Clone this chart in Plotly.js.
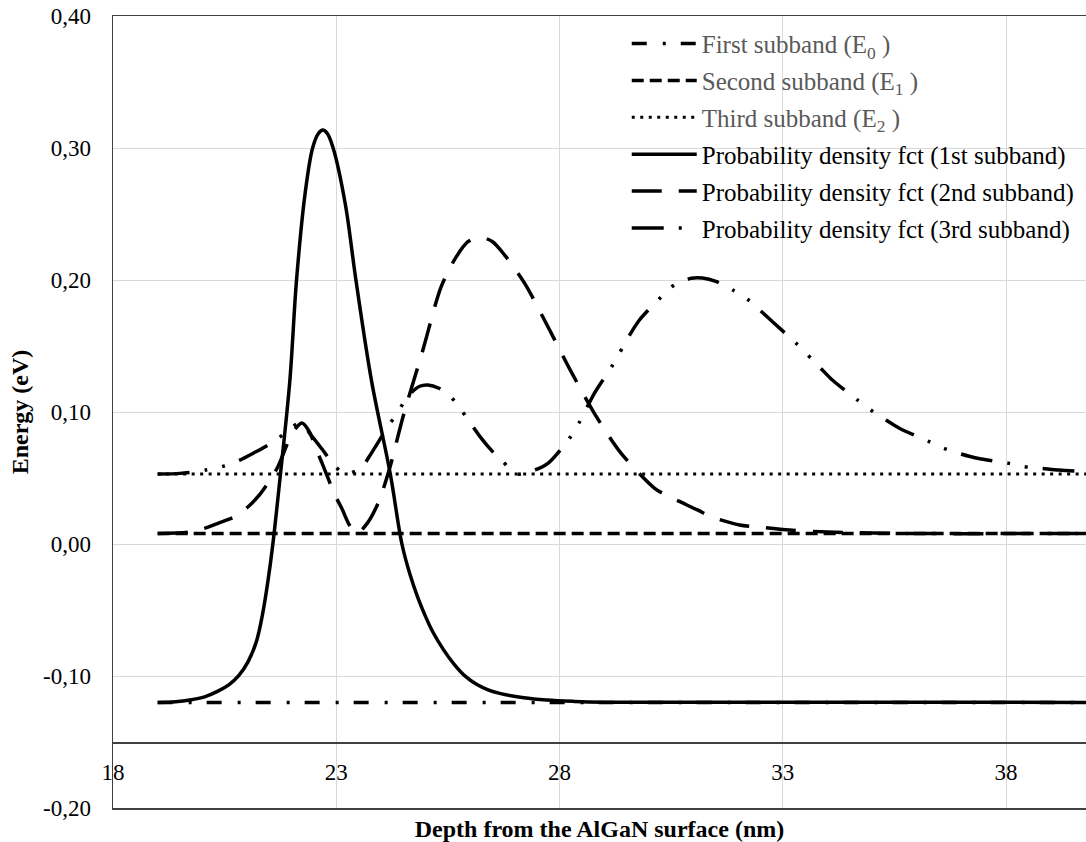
<!DOCTYPE html>
<html>
<head>
<meta charset="utf-8">
<script src="https://cdn.plot.ly/plotly-3.0.1.min.js"></script>
<style>
html, body { margin: 0; padding: 0; background: #ffffff; }
#chart { width: 1086px; height: 842px; }
</style>
</head>
<body>
<div id="chart"></div>
<script>
// ---- Data ----
const levelDepth = [19, 40];
const e0Level = [-0.12, -0.12];
const e1Level = [0.008, 0.008];
const e2Level = [0.053, 0.053];

const pdf1Depth = [19.0, 19.4, 19.72, 20.05, 20.35, 20.6, 20.82, 21.02, 21.21, 21.35, 21.47, 21.58, 21.75, 21.96, 22.11, 22.3, 22.47, 22.6, 22.70, 22.8, 22.93, 23.2, 23.44, 23.79, 24.21, 24.47, 24.65, 24.82, 25.0, 25.16, 25.4, 25.65, 25.9, 26.15, 26.4, 26.66, 27.2, 27.71, 28.3, 29.0, 40];
const pdf1Values = [-0.120, -0.1195, -0.1182, -0.1158, -0.1115, -0.1065, -0.0995, -0.0895, -0.0740, -0.053, -0.028, 0.000, 0.053, 0.1236, 0.200, 0.265, 0.300, 0.311, 0.3136, 0.311, 0.300, 0.258, 0.200, 0.1236, 0.053, 0.000, -0.023, -0.040, -0.055, -0.0665, -0.080, -0.0915, -0.1005, -0.1065, -0.1105, -0.1132, -0.1165, -0.1182, -0.1192, -0.1198, -0.120];

const pdf2Depth = [19.0, 19.7, 20.06, 20.35, 20.73, 21.02, 21.25, 21.47, 21.69, 21.96, 22.1, 22.23, 22.4, 22.55, 22.70, 22.97, 23.12, 23.3, 23.46, 23.7, 23.95, 24.2, 24.5, 24.94, 25.35, 25.69, 25.95, 26.21, 26.5, 26.77, 27.22, 27.74, 28.22, 28.78, 29.38, 30.13, 30.46, 31.09, 31.39, 32.03, 32.4, 33.15, 34.0, 35.6, 40];
const pdf2Values = [0.008, 0.009, 0.012, 0.0157, 0.0207, 0.028, 0.036, 0.0462, 0.0583, 0.0803, 0.088, 0.0917, 0.085, 0.072, 0.0598, 0.0371, 0.0273, 0.014, 0.008, 0.016, 0.032, 0.058, 0.097, 0.147, 0.195, 0.2177, 0.229, 0.2326, 0.229, 0.2189, 0.1975, 0.1646, 0.1331, 0.099, 0.0687, 0.0422, 0.0358, 0.0258, 0.0207, 0.0144, 0.0131, 0.0106, 0.0091, 0.008, 0.008];

const pdf3Depth = [19.0, 19.5, 20.08, 20.48, 20.84, 21.15, 21.47, 21.80, 22.0, 22.18, 22.47, 22.7, 22.90, 23.19, 23.55, 23.79, 24.15, 24.38, 24.6, 24.87, 25.05, 25.3, 25.54, 25.80, 26.02, 26.25, 26.5, 26.73, 27.05, 27.4, 27.74, 28.22, 28.43, 28.78, 29.19, 29.57, 29.79, 30.28, 30.57, 30.95, 31.2, 31.5, 31.88, 32.21, 32.5, 32.77, 33.3, 33.85, 34.11, 34.67, 34.97, 35.31, 35.61, 36.28, 36.61, 36.99, 37.36, 38.07, 38.4, 38.81, 39.19, 40];
const pdf3Values = [0.053, 0.0535, 0.056, 0.059, 0.0636, 0.069, 0.075, 0.0826, 0.088, 0.0917, 0.081, 0.071, 0.062, 0.053, 0.0576, 0.069, 0.0886, 0.0998, 0.112, 0.1195, 0.1205, 0.118, 0.1124, 0.1015, 0.0909, 0.080, 0.070, 0.0623, 0.053, 0.0555, 0.0611, 0.080, 0.0914, 0.1142, 0.1356, 0.1583, 0.1697, 0.1873, 0.1962, 0.2013, 0.2015, 0.199, 0.1924, 0.1854, 0.1767, 0.1684, 0.152, 0.1331, 0.1242, 0.1091, 0.1015, 0.0939, 0.0877, 0.0775, 0.0725, 0.0682, 0.0649, 0.0611, 0.0586, 0.0573, 0.056, 0.0545];

const seriesNames = [
  '<span style="color:#595959">First subband (E<sub>0</sub> )</span>',
  '<span style="color:#595959">Second subband (E<sub>1</sub> )</span>',
  '<span style="color:#595959">Third subband (E<sub>2</sub> )</span>',
  'Probability density fct (1st subband)',
  'Probability density fct (2nd subband)',
  'Probability density fct (3rd subband)'
];

const xTickVals = [18, 23, 28, 33, 38];
const xTickText = ['18', '23', '28', '33', '38'];
const yTickVals = [-0.2, -0.1, 0, 0.1, 0.2, 0.3, 0.4];
const yTickText = ['-0,20', '-0,10', '0,00', '0,10', '0,20', '0,30', '0,40'];

const xTitle = '<b>Depth from the AlGaN surface (nm)</b>';
const yTitle = '<b>Energy (eV)</b>';

// ---- Chart ----
const xRange = [18, 39.79];
const yRange = [-0.2, 0.4];
const ink = '#000000';

const traces = [
  { x: levelDepth, y: e0Level, name: seriesNames[0], legendgroup: 'g0', mode: 'lines', xaxis: 'x2',
    line: { color: ink, width: 3.5, dash: '15px,16px,3px,15px' } },
  { x: levelDepth, y: e1Level, name: seriesNames[1], legendgroup: 'g1', mode: 'lines',
    line: { color: ink, width: 3.5, dash: '12px,6px' } },
  { x: levelDepth, y: e2Level, name: seriesNames[2], legendgroup: 'g2', mode: 'lines',
    line: { color: ink, width: 3, dash: '3px,5.5px' } },
  { x: pdf1Depth, y: pdf1Values, name: seriesNames[3], legendgroup: 'g3', mode: 'lines',
    line: { color: ink, width: 3.5, shape: 'spline', smoothing: 1 } },
  { x: pdf2Depth, y: pdf2Values, name: seriesNames[4], legendgroup: 'g4', mode: 'lines',
    line: { color: ink, width: 3.5, shape: 'spline', smoothing: 0.8, dash: '30px,17px' } },
  { x: pdf3Depth, y: pdf3Values, name: seriesNames[5], legendgroup: 'g5', mode: 'lines',
    line: { color: ink, width: 3.5, shape: 'spline', smoothing: 0.8, dash: '32px,15px,3px,15px,3px,15px' } }
];

const axisLine = '#404040';
const gridCol = '#d9d9d9';
const fontFamily = 'Liberation Serif, Times New Roman, serif';

const layout = {
  width: 1086,
  height: 842,
  margin: { l: 113, r: 0, t: 16, b: 34, pad: 0 },
  paper_bgcolor: '#ffffff',
  plot_bgcolor: '#ffffff',
  font: { family: fontFamily, size: 23, color: '#000000' },
  showlegend: true,
  hovermode: false,
  legend: {
    x: 0.528, y: 0.994, xanchor: 'left', yanchor: 'top',
    bgcolor: 'rgba(0,0,0,0)', borderwidth: 0,
    font: { family: fontFamily, size: 25, color: '#000000' },
    itemwidth: 65, traceorder: 'grouped', tracegroupgap: 1.4
  },
  xaxis: {
    range: xRange, tickvals: xTickVals, ticktext: xTickText,
    showgrid: true, gridcolor: gridCol, gridwidth: 1,
    showline: true, mirror: true, linecolor: axisLine, linewidth: 1.5,
    showticklabels: false, ticks: '', zeroline: false,
    title: { text: xTitle, font: { family: fontFamily, size: 24, color: '#000' }, standoff: 11 }
  },
  xaxis2: {
    overlaying: 'x', anchor: 'free', position: 0.08333, side: 'bottom',
    range: xRange, tickvals: xTickVals, ticktext: xTickText,
    showgrid: false, showline: true, linecolor: axisLine, linewidth: 1.5,
    ticks: '', zeroline: false, ticklabelstandoff: 9,
    tickfont: { family: fontFamily, size: 23, color: '#000' }
  },
  yaxis: {
    range: yRange, tickvals: yTickVals, ticktext: yTickText,
    showgrid: true, gridcolor: gridCol, gridwidth: 1,
    showline: true, linecolor: axisLine, linewidth: 1.5,
    ticks: '', zeroline: false, ticklabelstandoff: 16,
    tickfont: { family: fontFamily, size: 23, color: '#000' },
    title: { text: yTitle, font: { family: fontFamily, size: 24, color: '#000' }, standoff: 7 }
  }
};

Plotly.newPlot('chart', traces, layout, { staticPlot: true, displayModeBar: false });
</script>
</body>
</html>
